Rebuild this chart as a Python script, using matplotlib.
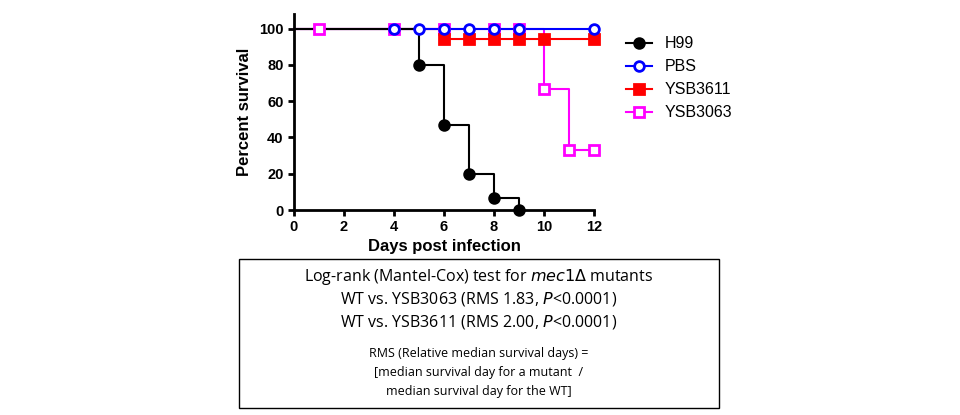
import matplotlib
matplotlib.use("Agg")
import matplotlib.pyplot as plt
from matplotlib.patches import Rectangle

plt.rcParams['font.family'] = ['Liberation Sans', 'DejaVu Sans']

h99_x = [0, 5, 6, 7, 8, 9]
h99_y = [100, 80, 46.7, 20, 6.7, 0]
h99_mx = [5, 6, 7, 8, 9]
h99_my = [80, 46.7, 20, 6.7, 0]
pbs_x = [0, 12]
pbs_y = [100, 100]
pbs_mx = [4, 5, 6, 7, 8, 9, 12]
pbs_my = [100, 100, 100, 100, 100, 100, 100]
y3611_x = [0, 6, 12]
y3611_y = [100, 94.1, 94.1]
y3611_mx = [6, 7, 8, 9, 10, 12]
y3611_my = [94.1, 94.1, 94.1, 94.1, 94.1, 94.1]
y3063_x = [0, 10, 11, 12]
y3063_y = [100, 66.7, 33.3, 33.3]
y3063_mx = [1, 4, 6, 8, 9, 10, 11, 12]
y3063_my = [100, 100, 100, 100, 100, 66.7, 33.3, 33.3]

fig = plt.figure(figsize=(9.6, 4.15), dpi=100)
ax = fig.add_axes([294/960, 1-210/415, 300/960, 196/415])

series = [
    (h99_x, h99_y, h99_mx, h99_my, 'black', 'o', 'black', 'H99'),
    (pbs_x, pbs_y, pbs_mx, pbs_my, '#0000ff', 'o', 'white', 'PBS'),
    (y3611_x, y3611_y, y3611_mx, y3611_my, '#ff0000', 's', '#ff0000', 'YSB3611'),
    (y3063_x, y3063_y, y3063_mx, y3063_my, '#ff00ff', 's', 'white', 'YSB3063'),
]
handles = []
for x, y, mx, my, c, m, fc, lab in reversed(series):
    ax.step(x, y, where='post', color=c, lw=1.5, clip_on=False, zorder=2)
for x, y, mx, my, c, m, fc, lab in reversed(series):
    ax.plot(mx, my, ls='none', marker=m, ms=7, mfc=fc, mec=c, mew=2, clip_on=False, zorder=3)
for x, y, mx, my, c, m, fc, lab in series:
    h, = ax.plot([], [], color=c, lw=1.5, marker=m, ms=7, mfc=fc, mec=c, mew=2, label=lab)
    handles.append(h)

ax.set_xlim(0, 12)
ax.set_ylim(0, 108)
ax.set_xticks(range(0, 13, 2))
ax.set_yticks(range(0, 101, 20))
for s in ['top', 'right']:
    ax.spines[s].set_visible(False)
for s in ['left', 'bottom']:
    ax.spines[s].set_linewidth(2)
ax.tick_params(width=2, length=4, labelsize=10.5)
for t in ax.get_xticklabels() + ax.get_yticklabels():
    t.set_fontweight('bold')
ax.set_xlabel('Days post infection', fontsize=12, fontweight='bold', labelpad=3)
ax.set_ylabel('Percent survival', fontsize=12, fontweight='bold', labelpad=5)

fig.legend(handles=handles, loc='upper left', bbox_to_anchor=(612/960, 1-22/415),
           frameon=False, fontsize=11.5, handlelength=1.6, labelspacing=0.5)

fig.patches.append(Rectangle((239/960, 1-408/415), 480/960, 149/415, transform=fig.transFigure,
                             fill=False, ec='black', lw=1))
cx = 479/960
fam = ['Open Sans', 'DejaVu Sans']
fig.text(cx, 1-277/415, r'Log-rank (Mantel-Cox) test for $\mathit{mec1\Delta}$ mutants', ha='center', va='center', fontsize=11.5, family=fam)
fig.text(cx, 1-299/415, r'WT vs. YSB3063 (RMS 1.83, $\mathit{P}$<0.0001)', ha='center', va='center', fontsize=11.5, family=fam)
fig.text(cx, 1-322/415, r'WT vs. YSB3611 (RMS 2.00, $\mathit{P}$<0.0001)', ha='center', va='center', fontsize=11.5, family=fam)
fig.text(cx, 1-353/415, 'RMS (Relative median survival days) =', ha='center', va='center', fontsize=9, family=fam)
fig.text(cx, 1-372/415, '[median survival day for a mutant  /', ha='center', va='center', fontsize=9, family=fam)
fig.text(cx, 1-391/415, 'median survival day for the WT]', ha='center', va='center', fontsize=9, family=fam)

fig.savefig('out.png', dpi=100)
